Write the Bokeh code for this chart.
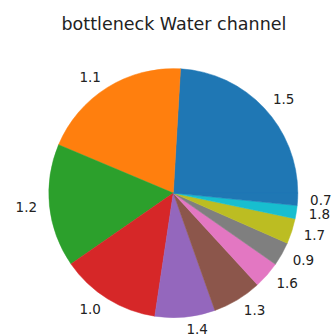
import numpy as np
from bokeh.plotting import figure
from bokeh.models import ColumnDataSource, Label
from bokeh.core.properties import value
from bokeh.embed import file_html
from bokeh.resources import INLINE

labels = ["1.5", "1.1", "1.2", "1.0", "1.4", "1.3", "1.6", "0.9", "1.7", "1.8", "0.7"]
values = [24.1, 19.6, 16.0, 13.0, 7.8, 6.4, 3.5, 3.1, 3.3, 1.7, 1.6]
colors = ["#1f77b4", "#ff7f0e", "#2ca02c", "#d62728", "#9467bd", "#8c564b",
          "#e377c2", "#7f7f7f", "#bcbd22", "#17becf", "#1f77b4"]
title_text = "bottleneck Water channel"

vals = np.array(values, dtype=float)
frac = vals / vals.sum()
ends = np.cumsum(frac) * 2 * np.pi
starts = ends - frac * 2 * np.pi
mids = (starts + ends) / 2
lx = 1.1 * np.cos(mids)
ly = 1.1 * np.sin(mids)
align = ["left" if x > 0 else "right" for x in lx]

W, H = 334, 336
scale = 124.5
cx, cy = 172.8, 192.6
p = figure(width=W, height=H, output_backend="svg", toolbar_location=None,
           x_range=(-cx / scale, (W - cx) / scale),
           y_range=(-(H - cy) / scale, cy / scale),
           min_border=0)
p.axis.visible = False
p.grid.visible = False
p.outline_line_color = None
p.background_fill_color = "white"

src = ColumnDataSource(dict(start=starts, end=ends, color=colors))
p.wedge(x=0, y=0, radius=1.0, start_angle="start", end_angle="end",
        fill_color="color", line_color="color", line_width=0.5, source=src)

lsrc = ColumnDataSource(dict(x=lx, y=ly, text=labels, align=align))
p.text(x="x", y="y", text="text", text_align="align", text_baseline="middle",
       text_font_size="13.5px", text_color="#222222", text_font=value("DejaVu Sans"),
       source=lsrc)

p.add_layout(Label(x=0.005, y=(cy - 23) / scale, text=title_text, text_align="center",
                   text_baseline="middle", text_font_size="17.5px",
                   text_font="DejaVu Sans", text_color="#222222"))

open("out.html", "w").write(file_html(p, INLINE))
